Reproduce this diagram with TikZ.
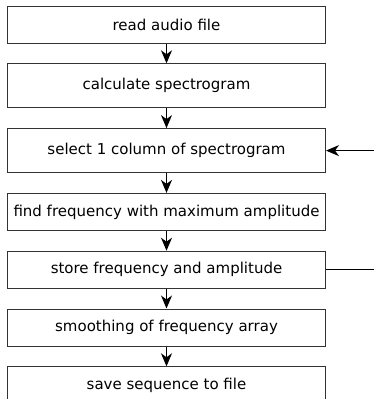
\documentclass[tikz,border=0pt]{standalone}
\usepackage{fontspec}
\setmainfont{DejaVu Sans}
\usetikzlibrary{positioning,arrows.meta}

\begin{document}
\begin{tikzpicture}[-{Stealth[length=13pt,width=11pt,inset=4pt]},line width=1pt,
        node distance=19.8pt,
        main node/.style={rectangle, draw=black!80, fill=white, inner sep=0pt,
        minimum width=318pt, minimum height=37pt, font=\fontsize{15}{18}\selectfont},
        tall node/.style={main node, minimum height=44pt}
        ]

        \useasboundingbox (0pt,0pt) rectangle (374pt,-399pt);
        \coordinate (rim) at (374pt,0pt);

        \node [main node] (read) at (166.5pt,-24.5pt) {read audio file};
        \node [tall node] (spec) [below = of read] {calculate spectrogram};
        \node [tall node] (select) [below = of spec] {select 1 column of spectrogram};
        \node [main node] (find) [below = of select] {find frequency with maximum amplitude};
        \node [main node] (store) [below = of find] {store frequency and amplitude};
        \node [main node] (smooth) [below = of store] {smoothing of frequency array};
        \node [main node] (save) [below = of smooth] {save sequence to file};

        \path
        (read) edge (spec)
        (spec) edge (select)
        (select) edge (find)
        (find) edge (store)
        (store) edge (smooth)
        (smooth) edge (save)
        (select.east -| rim) edge (select.east)
        (store.east) edge [-] (store.east -| rim)
        ;
     \end{tikzpicture}
\end{document}
